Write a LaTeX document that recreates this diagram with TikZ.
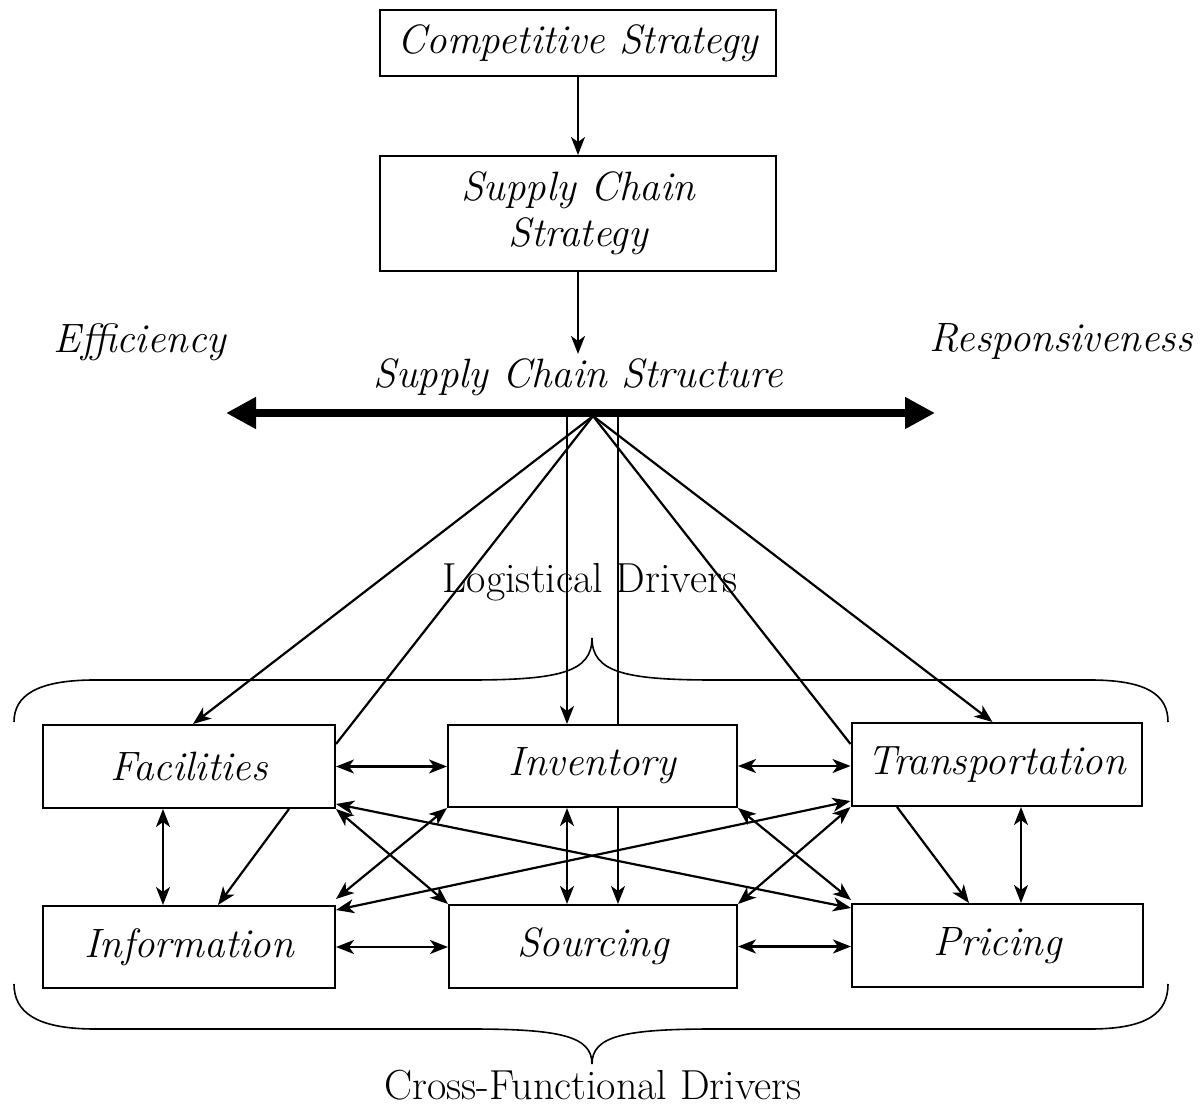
\documentclass[tikz,border=0pt]{standalone}
\usetikzlibrary{arrows.meta,calc}
\begin{document}
\begin{tikzpicture}[x=0.5pt,y=-0.5pt,
  >={Stealth[length=9pt,width=7pt,inset=2.5pt]},
  box/.style={draw,line width=1pt,inner sep=0pt,fill=white,
    font=\fontsize{20.5}{24}\selectfont\itshape},
  lbl/.style={inner sep=2pt,font=\fontsize{20.5}{24}\selectfont\itshape},
  plain/.style={inner sep=2pt,font=\fontsize{21}{25}\selectfont},
  conn/.style={line width=1.1pt},
  brace/.style={line width=0.8pt}]
\useasboundingbox (0,0) rectangle (1201,1107);

% top boxes
\node[box,minimum width=198pt,minimum height=33pt] (cs) at (578,43) {Competitive Strategy};
\node[box,minimum width=198pt,minimum height=57.5pt,align=center] (scs) at (578,213.5) {Supply Chain\\[-1pt]Strategy};
\node[lbl] (sct) at (578,377) {Supply Chain Structure};
\node[lbl] (eff) at (140,342) {Efficiency};
\node[lbl] (res) at (1061,341) {Responsiveness};

\draw[conn,->] (cs.south) -- (scs.north);
\draw[conn,->] (scs.south) -- (scs.south |- sct.north);

% bar
\coordinate (bl) at (226,413);
\coordinate (br) at (935,413);
\draw[line width=4pt,{Triangle[length=15pt,width=15pt]}-{Triangle[length=15pt,width=15pt]}] (bl) -- (br);
\coordinate (apex) at (593,416);
\coordinate (v1) at (567,417);
\coordinate (v2) at (618,417);

% driver boxes
\node[box,minimum width=146pt,minimum height=41.5pt] (fac) at (189,766.5) {Facilities};
\node[box,minimum width=144.5pt,minimum height=41pt] (inv) at (592.5,766) {Inventory};
\node[box,minimum width=145pt,minimum height=41.5pt] (tra) at (996.5,764.5) {Transportation};
\node[box,minimum width=146pt,minimum height=41pt] (inf) at (189,947) {Information};
\node[box,minimum width=144pt,minimum height=41.5pt] (sou) at (593,946.5) {Sourcing};
\node[box,minimum width=145.5pt,minimum height=41.5pt] (pri) at (997.5,945.5) {Pricing};

% labels and braces
\node[plain] (log) at (590,582) {Logistical Drivers};
\node[plain] (cfd) at (593,1085) {Cross-Functional Drivers};

\draw[brace] (14,722) .. controls (14,696) and (36,680) .. (95,680)
  -- (470,680) .. controls (560,680) and (592,672) .. (592,638)
  .. controls (592,672) and (624,680) .. (714,680)
  -- (1090,680) .. controls (1149,680) and (1168,696) .. (1168,722);
\draw[brace] (14,984) .. controls (14,1012) and (36,1029) .. (95,1029)
  -- (470,1029) .. controls (560,1029) and (592,1036) .. (592,1064)
  .. controls (592,1036) and (624,1029) .. (714,1029)
  -- (1090,1029) .. controls (1149,1029) and (1168,1012) .. (1168,984);

% from structure to drivers
\draw[conn,->] (apex) -- ($(fac.north)+(4,0)$);
\draw[conn] (apex) -- ($(fac.north east)+(0,20)$);
\draw[conn,->] (v1) -- (v1 |- inv.north);
\draw[conn] (v2) -- (v2 |- inv.north);
\draw[conn,->] (v2 |- inv.south) -- (v2 |- sou.north);
\draw[conn,->] (apex) -- ($(tra.north)+(-4,0)$);
\draw[conn] (apex) -- ($(tra.north west)+(0,22)$);

% horizontal links
\draw[conn,<->] (fac.east) -- (fac.east -| inv.west);
\draw[conn,<->] (inv.east) -- (inv.east -| tra.west);
\draw[conn,<->] (inf.east) -- (inf.east -| sou.west);
\draw[conn,<->] (sou.east) -- (sou.east -| pri.west);

% vertical links
\coordinate (xa) at (163,0);
\coordinate (xc) at (1021,0);
\draw[conn,<->] (xa |- fac.south) -- (xa |- inf.north);
\draw[conn,<->] (v1 |- inv.south) -- (v1 |- sou.north);
\draw[conn,<->] (xc |- tra.south) -- (xc |- pri.north);

% diagonal one-way
\draw[conn,->] ($(fac.south)+(100,0)$) -- ($(inf.north)+(29,0)$);
\draw[conn,->] ($(tra.south)+(-99.5,0)$) -- ($(pri.north)+(-28.5,0)$);

% crossing double arrows
\draw[conn,<->] (fac.south east) -- (sou.north west);
\draw[conn,<->] (inv.south west) -- ($(inf.north east)+(0,-6)$);
\draw[conn,<->] (inv.south east) -- ($(pri.north west)+(0,-3)$);
\draw[conn,<->] (sou.north east) -- (tra.south west);
\draw[conn,<->] ($(fac.south east)+(0,-5)$) -- ($(pri.north west)+(0,5)$);
\draw[conn,<->] ($(inf.north east)+(0,5)$) -- ($(tra.south west)+(0,-6)$);
\end{tikzpicture}
\end{document}
